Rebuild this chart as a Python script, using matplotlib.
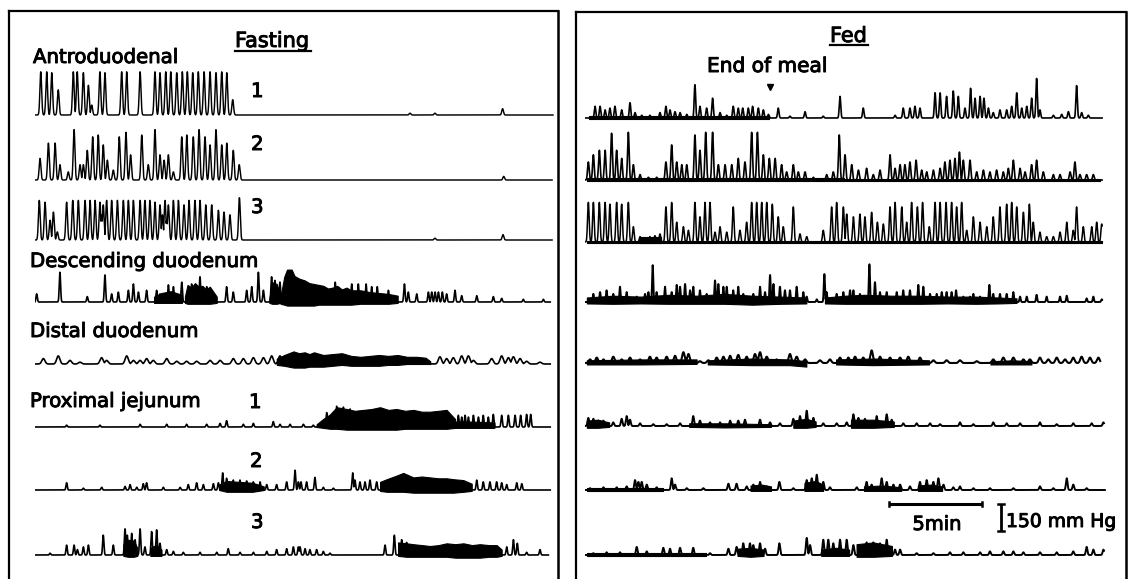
import numpy as np
import matplotlib
matplotlib.use('Agg')
import matplotlib.pyplot as plt
import matplotlib.patheffects as pe
from matplotlib.lines import Line2D

W, H = 1128, 579
PX_MIN = 18.6            # px per minute on the chart
MMHG_PX = 150 / 27.0     # mmHg per px (from the 150 mm Hg bar)
T_SPAN = 28.0

# ---------------- data: spike times (min) and peak pressures (mmHg) ----------------
# Fasting, antroduodenal 1-3
a1_t = [0.31, 0.63, 0.90, 1.25, 2.06, 2.27, 2.60, 2.87, 3.05, 3.49, 3.76, 4.66, 4.93, 5.65, 6.45, 6.72,
        7.03, 7.30, 7.62, 7.92, 8.19, 8.48, 8.78, 9.09, 9.41, 9.73, 10.04, 10.31, 10.63, 20.16, 21.5, 25.14]
a1_h = [240, 240, 235, 140, 240, 240, 235, 165, 55, 240, 235, 240, 240, 240, 240, 235,
        240, 240, 235, 240, 240, 235, 240, 240, 240, 235, 240, 235, 85, 10, 10, 35]
a2_t = [0.27, 0.72, 1.08, 1.34, 1.79, 2.10, 2.42, 2.60, 2.81, 3.10, 3.40, 3.67, 3.89, 4.21, 4.53, 4.89,
        5.14, 5.74, 6.09, 6.45, 6.72, 6.94, 7.17, 7.44, 7.89, 8.16, 8.51, 8.82, 9.14, 9.41, 9.73, 10.04,
        10.31, 10.66, 10.98, 25.2]
a2_h = [120, 205, 205, 85, 45, 280, 85, 85, 165, 240, 250, 195, 110, 55, 240, 265,
        140, 250, 85, 280, 140, 110, 140, 45, 240, 250, 240, 280, 240, 195, 280, 195,
        205, 165, 85, 20]
a3_t = [0.23, 0.54, 0.81, 0.99, 1.20, 1.70, 2.03, 2.33, 2.69, 2.96, 3.23, 3.49, 3.58, 3.67, 3.85, 4.12,
        4.43, 4.75, 5.02, 5.29, 5.65, 5.91, 6.18, 6.45, 6.72, 6.85, 6.99, 7.08, 7.17, 7.44, 7.71, 8.01,
        8.28, 8.60, 8.87, 9.18, 9.50, 9.86, 10.16, 10.48, 10.99, 21.5, 25.16]
a3_h = [220, 210, 110, 155, 45, 210, 220, 220, 220, 220, 220, 210, 140, 195, 220, 220,
        220, 220, 220, 220, 220, 220, 220, 210, 195, 140, 220, 110, 195, 220, 220, 195,
        220, 220, 220, 195, 195, 165, 155, 140, 235, 10, 30]

# Fasting, descending duodenum
dd0_t = [0.09, 1.34, 2.81, 3.76, 4.12, 4.48, 5.02, 5.29, 5.56, 6.00, 6.54, 6.72, 7.17, 7.44, 7.89, 8.42,
         8.87, 9.23, 10.30, 10.66, 11.38, 11.65, 12.01, 12.28, 12.72, 12.90, 13.17, 16.14, 17.03, 17.38,
         17.8, 18.1, 18.4, 19.0, 19.86, 20.07, 20.52, 21.15, 21.33, 21.51, 21.69, 21.9, 22.13, 22.58,
         22.94, 23.75, 24.64, 25.09, 26.25, 27.33]
dd0_h = [45, 165, 30, 150, 45, 55, 65, 100, 55, 65, 65, 45, 95, 85, 110, 100,
         140, 85, 85, 55, 65, 85, 165, 65, 140, 120, 110, 110, 100, 100,
         100, 85, 85, 65, 100, 55, 45, 55, 55, 55, 55, 55, 45, 65,
         35, 35, 30, 20, 15, 15]
dd0_bt = [[6.4, 6.8, 7.3, 7.9], [8.06, 8.2, 8.4, 8.6, 8.8, 9.0, 9.2, 9.4, 9.77], [12.6, 12.75, 13.0, 13.2],
          [13.2, 13.4, 13.55, 13.8, 13.95, 14.2, 14.5, 14.75, 15.0, 15.25, 15.5, 15.75, 16.0, 16.25,
           16.5, 16.75, 17.0, 17.5, 18.0, 18.5, 19.0, 19.5]]
dd0_bu = [[30, 50, 60, 40], [30, 95, 80, 105, 85, 90, 70, 85, 30], [20, 110, 100, 30],
          [30, 140, 180, 180, 145, 130, 120, 105, 100, 95, 90, 75, 80, 90, 70, 80, 65, 65, 55, 50, 45, 35]]
dd0_bl = [[-5, -5, -5, -5], [-5, -10, -10, -10, -10, -10, -10, -10, -5], [-5, -10, -10, -5],
          [-10, -15, -20, -20, -20, -20, -20, -20, -20, -15, -15, -15, -15, -15, -15, -15, -15,
           -10, -10, -10, -10, -5]]

# Fasting, distal duodenum
dist0_t = [0.45, 1.25, 1.88, 2.42, 3.58, 3.85, 4.93, 5.29, 5.65, 6.00, 6.36, 7.08, 7.62, 8.15, 8.69,
           9.41, 9.95, 10.66, 11.2, 11.74, 12.28, 12.72, 13.17, 21.77, 22.13, 22.49, 22.94, 23.30,
           23.57, 24.55, 25.09, 25.45, 25.72, 26.08, 26.43, 27.15]
dist0_h = [30, 45, 20, 10, 35, 20, 45, 20, 20, 30, 20, 30, 15, 15, 15,
           20, 20, 30, 30, 35, 35, 45, 45, 40, 30, 35, 45, 45,
           20, 30, 45, 35, 40, 30, 15, 10]
dist0_bt = [[13.0, 13.4, 13.9, 14.2, 14.5, 14.75, 15.0, 15.5, 16.0, 16.5, 17.0, 17.5, 18.0, 18.5, 19.0,
             19.5, 20.0, 20.5, 21.0, 21.25]]
dist0_bu = [[30, 50, 70, 60, 65, 55, 65, 50, 55, 60, 45, 40, 45, 50, 45, 50, 40, 40, 35, 15]]
dist0_bl = [[-5, -10, -20, -20, -20, -15, -15, -15, -10, -5, -10, -10, -10, -10, -5, -5, 0, 0, 0, 0]]

# Fasting, proximal jejunum 1-3
pj1_t = [1.70, 3.49, 5.65, 7.08, 8.15, 9.23, 9.95, 10.30, 11.2, 11.74, 12.81, 13.17, 13.71, 14.43,
         14.96, 15.68, 16.22, 16.58, 16.94, 22.76, 22.94, 23.12, 23.3, 23.57, 23.84, 24.10, 24.37,
         24.64, 25.09, 25.45, 25.81, 26.11, 26.43, 26.65]
pj1_h = [10, 10, 15, 15, 15, 15, 20, 35, 15, 20, 30, 15, 15, 15,
         10, 80, 115, 110, 100, 65, 55, 65, 55, 65, 55, 65, 55,
         70, 65, 65, 65, 65, 70, 70]
pj1_bt = [[15.14, 15.5, 15.86, 16.22, 16.76, 17.2, 17.65, 18.1, 18.55, 19.0, 19.44, 19.9, 20.34, 20.8,
           21.24, 21.7, 22.13, 22.58],
          [22.58, 23.5, 24.7]]
pj1_bu = [[15, 45, 70, 110, 100, 90, 95, 100, 110, 95, 100, 90, 95, 85, 85, 90, 95, 45], [30, 30, 25]]
pj1_bl = [[0, -5, -10, -10, -15, -15, -15, -15, -15, -15, -15, -10, -10, -10, -10, -10, -10, -5],
          [-5, -5, -5]]

pj2_t = [1.70, 2.60, 3.58, 4.84, 5.11, 5.47, 5.82, 6.0, 6.90, 7.80, 8.24, 8.69, 9.05, 9.59, 9.86,
         10.09, 10.30, 10.66, 11.02, 11.38, 11.74, 12.10, 12.46, 12.99, 13.53, 13.98, 14.16, 14.3,
         14.6, 15.05, 15.5, 16.04, 17.08, 17.2, 17.47, 17.74, 18.01, 18.37, 23.75, 24.1, 24.46,
         24.82, 25.09, 25.36, 25.9, 26.17]
pj2_h = [40, 10, 15, 20, 30, 15, 35, 40, 15, 15, 30, 40, 30, 35, 40,
         95, 65, 55, 55, 50, 45, 45, 30, 30, 45, 110, 45, 45,
         45, 70, 15, 10, 95, 55, 45, 45, 55, 45, 55, 45, 45,
         45, 40, 30, 40, 35]
pj2_bt = [[9.9, 10.3, 11.0, 11.7, 12.3],
          [18.55, 18.91, 19.44, 19.8, 20.34, 20.8, 21.24, 21.7, 22.13, 22.49, 23.03, 23.48]]
pj2_bu = [[30, 50, 45, 40, 20], [45, 60, 80, 95, 70, 75, 70, 65, 65, 60, 55, 35]]
pj2_bl = [[0, -10, -10, -10, 0], [-5, -10, -10, -10, -15, -15, -15, -15, -15, -15, -10, -5]]

pj3_t = [0.81, 1.70, 2.10, 2.28, 2.60, 2.87, 3.67, 4.21, 4.84, 4.96, 5.20, 5.38, 5.65, 5.91, 6.27,
         6.54, 6.72, 7.08, 7.44, 7.97, 8.87, 9.77, 10.39, 11.02, 11.74, 12.46, 12.99, 13.53, 13.89,
         14.16, 14.25, 14.52, 14.78, 15.14, 15.5, 15.86, 18.82, 19.32, 19.71, 19.98, 25.36, 25.72,
         25.93, 26.43, 27.15]
pj3_h = [10, 55, 55, 30, 45, 55, 110, 55, 145, 110, 120, 85, 145, 45, 130,
         140, 65, 30, 20, 15, 15, 15, 35, 15, 15, 20, 30, 35, 45,
         45, 45, 35, 30, 30, 20, 10, 55, 110, 85, 70, 45, 85,
         65, 15, 30]
pj3_bt = [[4.75, 5.0, 5.3, 5.5], [6.2, 6.5, 6.8],
          [19.52, 19.98, 20.34, 20.8, 21.24, 21.7, 22.13, 22.6, 23.03, 23.5, 23.92, 24.4, 24.82, 25.09]]
pj3_bu = [[60, 85, 80, 40], [40, 55, 30], [70, 65, 60, 55, 50, 55, 65, 60, 65, 55, 60, 55, 55, 30]]
pj3_bl = [[-5, -10, -10, -5], [-5, -5, -5],
          [-5, -10, -10, -10, -10, -10, -10, -15, -15, -15, -15, -10, -10, -5]]

# Fed, antroduodenal 1-3
MEAL_END = 9.95
f1_t = [0.54, 0.81, 1.08, 1.34, 1.61, 1.97, 2.42, 2.69, 3.05, 3.49, 4.03, 4.35, 4.57, 4.84, 5.11,
        5.47, 5.91, 6.18, 6.54, 6.86, 7.26, 7.62, 7.97, 8.24, 8.48, 8.78, 9.01, 9.32, 9.59, 9.86,
        10.39, 11.02, 11.83, 12.81, 13.71, 14.96, 16.67, 17.11, 17.47, 17.74, 18.01, 18.82, 19.09,
        19.44, 19.80, 20.07, 20.43, 20.73, 20.97, 21.24, 21.45, 21.69, 21.95, 22.31, 22.67, 22.94,
        23.21, 23.48, 23.75, 24.01, 24.28, 24.46, 25.18, 25.63, 25.99, 26.43, 26.70, 27.06]
f1_h = [65, 65, 45, 55, 65, 45, 85, 30, 15, 15, 30, 65, 45, 35, 30,
        20, 185, 65, 55, 110, 30, 15, 65, 55, 55, 55, 65, 55, 45, 20,
        55, 10, 35, 10, 120, 55, 15, 55, 55, 65, 55, 140, 140,
        120, 150, 120, 55, 165, 110, 120, 110, 55, 30, 45, 45, 65,
        140, 55, 65, 110, 220, 45, 15, 20, 35, 180, 30, 15]
f1_bt = [[0.2, 3.0, 6.0, 9.9]]
f1_bu = [[10, 10, 10, 10]]
f1_bl = [[-3, -3, -3, -3]]

f2_t = [0.18, 0.45, 0.77, 1.08, 1.43, 1.70, 1.97, 2.33, 2.60, 2.96, 3.41, 3.85, 4.35, 4.66, 4.93,
        5.20, 5.47, 5.91, 6.18, 6.49, 6.86, 7.17, 7.53, 7.89, 8.24, 8.60, 8.96, 9.27, 9.59, 9.91,
        10.22, 10.57, 10.84, 11.20, 11.47, 11.83, 12.28, 12.99, 13.35, 13.67, 13.98, 14.34, 14.70,
        15.14, 15.50, 15.86, 16.40, 16.67, 16.94, 17.20, 17.47, 17.80, 18.10, 18.37, 18.73, 19.09,
        19.35, 19.62, 19.89, 20.13, 20.34, 20.70, 21.06, 21.42, 21.77, 22.13, 22.49, 22.76, 23.03,
        23.39, 23.66, 24.01, 24.28, 24.64, 25.18, 25.54, 26.08, 26.34, 26.61, 26.97, 27.33]
f2_h = [100, 140, 165, 165, 260, 165, 120, 265, 85, 30, 15, 15, 100, 195, 100,
        85, 85, 250, 165, 265, 265, 85, 85, 85, 120, 100, 265, 265, 140, 120,
        120, 85, 45, 85, 45, 45, 15, 30, 45, 250, 140, 85, 55,
        65, 30, 55, 140, 65, 85, 85, 100, 110, 55, 45, 55, 65,
        100, 110, 120, 155, 110, 110, 45, 55, 45, 55, 45, 65, 110,
        65, 45, 85, 110, 45, 30, 30, 45, 100, 30, 30, 30]
f2_bt = [[0.1, 13.9], [14.0, 27.7]]
f2_bu = [[12, 12], [8, 8]]
f2_bl = [[-4, -4], [-3, -3]]

f3_t = [0.18, 0.45, 0.77, 1.08, 1.34, 1.70, 1.97, 2.33, 2.60, 2.96, 3.23, 3.49, 3.76, 4.03, 4.35,
        4.66, 4.93, 5.29, 5.56, 5.91, 6.18, 6.45, 6.72, 6.99, 7.26, 7.62, 7.97, 8.33, 8.69, 8.96,
        9.23, 9.50, 9.77, 10.07, 10.39, 10.66, 11.20, 11.56, 11.92, 12.81, 13.26, 13.53, 13.89,
        14.07, 14.43, 14.78, 15.05, 15.41, 15.72, 16.04, 16.40, 16.67, 17.03, 17.29, 17.56, 17.87,
        18.15, 18.51, 18.82, 19.09, 19.41, 19.71, 19.98, 20.25, 20.52, 20.88, 21.24, 21.60, 21.95,
        22.31, 22.67, 22.94, 23.21, 23.57, 23.89, 24.10, 24.46, 24.82, 25.18, 25.54, 25.90, 26.25,
        26.43, 26.79, 27.24, 27.51, 27.78]
f3_h = [220, 220, 220, 220, 210, 220, 210, 220, 85, 30, 20, 30, 35, 45, 195,
        220, 110, 85, 65, 220, 140, 220, 220, 55, 85, 55, 195, 65, 110, 220,
        220, 220, 220, 210, 140, 85, 195, 45, 30, 65, 195, 220, 195,
        155, 140, 155, 140, 165, 110, 100, 195, 220, 195, 110, 220, 195,
        220, 85, 220, 220, 220, 220, 195, 220, 65, 140, 110, 85, 140,
        195, 210, 220, 195, 165, 210, 110, 55, 30, 30, 55, 110, 65,
        195, 85, 85, 110, 100]
f3_bt = [[0.1, 27.8], [2.9, 4.1]]
f3_bu = [[8, 8], [30, 30]]
f3_bl = [[-4, -4], [-5, -5]]

# Fed, descending duodenum
f4_t = [0.45, 0.81, 1.16, 1.52, 1.88, 2.24, 2.78, 3.23, 3.41, 3.64, 3.85, 4.30, 4.66, 4.93, 5.11,
        5.38, 5.65, 5.82, 6.18, 6.54, 6.99, 7.17, 7.44, 7.62, 7.97, 8.24, 8.51, 9.05, 9.41, 9.68,
        9.95, 10.13, 10.48, 10.75, 11.02, 11.38, 11.74, 11.92, 12.46, 12.87, 12.99, 13.53, 13.89,
        14.25, 14.43, 14.78, 15.29, 15.59, 15.86, 16.22, 16.76, 17.11, 17.47, 17.92, 18.19, 18.55,
        18.91, 19.18, 19.44, 19.71, 19.95, 20.34, 20.70, 20.88, 21.24, 21.74, 21.95, 22.31, 22.67,
        23.03, 23.39, 23.75, 24.28, 24.82, 25.54, 25.90, 26.97, 27.33, 27.78]
f4_h = [45, 55, 65, 45, 85, 55, 30, 45, 55, 205, 55, 85, 55, 95, 85,
        100, 65, 85, 65, 45, 120, 100, 85, 85, 65, 85, 45, 45, 85, 55,
        150, 100, 85, 65, 65, 85, 55, 30, 15, 155, 55, 45, 55,
        65, 65, 45, 210, 110, 55, 55, 55, 65, 65, 95, 85, 45,
        45, 55, 55, 55, 65, 30, 30, 45, 30, 95, 45, 45, 45,
        55, 30, 30, 40, 30, 30, 35, 20, 30, 15]
f4_bt = [[0.1, 1.5, 3.0, 4.5, 6.0, 7.5, 9.0, 10.5, 11.9], [12.9, 14.0, 15.0, 16.5, 18.0, 19.5, 21.0, 22.2, 23.2]]
f4_bu = [[25, 35, 30, 40, 35, 45, 35, 30, 25], [25, 35, 40, 35, 35, 30, 30, 25, 20]]
f4_bl = [[-8, -10, -8, -10, -10, -10, -15, -10, -8], [-8, -10, -10, -10, -10, -8, -10, -8, -5]]

# Fed, distal duodenum
f5_t = [0.27, 0.63, 0.99, 1.52, 1.97, 2.42, 2.96, 3.49, 3.85, 4.39, 4.84, 5.29, 5.56, 6.18, 6.63,
        7.08, 7.44, 7.80, 8.24, 8.69, 9.14, 9.41, 9.77, 10.30, 11.02, 11.38, 11.83, 12.63, 13.17,
        13.71, 14.16, 14.52, 14.96, 15.41, 15.86, 16.40, 16.94, 17.38, 18.01, 18.73, 19.44, 20.16,
        21.06, 21.95, 22.49, 23.03, 23.57, 23.92, 24.46, 24.91, 25.36, 25.81, 26.25, 26.70, 27.15,
        27.60]
f5_h = [20, 30, 20, 35, 20, 30, 20, 35, 30, 35, 40, 60, 50, 10, 15,
        30, 35, 40, 45, 35, 50, 60, 35, 20, 50, 35, 20, 15, 20,
        30, 30, 35, 30, 70, 35, 30, 30, 35, 30, 15, 15, 15,
        10, 20, 30, 30, 20, 20, 30, 20, 30, 20, 30, 35, 30,
        30]
f5_bt = [[0.1, 3.0, 6.0], [6.6, 9.0, 11.0, 11.9], [13.5, 15.5, 18.5], [21.8, 23.0, 24.0]]
f5_bu = [[15, 20, 20], [15, 25, 20, 10], [20, 25, 15], [10, 15, 10]]
f5_bl = [[-8, -8, -5], [-8, -12, -12, -20], [-8, -12, -8], [-8, -8, -8]]

# Fed, proximal jejunum 1-3
f6_t = [0.18, 0.45, 0.72, 0.99, 1.52, 1.97, 2.24, 2.42, 2.96, 3.67, 4.39, 5.11, 5.82, 6.18, 6.72,
        7.26, 7.80, 8.24, 8.60, 9.41, 9.95, 10.48, 11.20, 11.56, 11.92, 12.28, 12.81, 13.53, 14.07,
        14.43, 14.70, 15.05, 15.68, 16.22, 16.49, 17.11, 17.83, 18.55, 19.09, 20.16, 20.88, 21.95,
        22.67, 23.39, 24.46, 25.36, 26.25, 27.24, 27.87]
f6_h = [45, 40, 30, 30, 20, 40, 55, 35, 15, 10, 10, 15, 55, 30, 20,
        20, 30, 30, 35, 35, 20, 15, 40, 55, 85, 45, 15, 15, 20,
        65, 45, 40, 55, 65, 35, 15, 15, 15, 10, 20, 10, 20,
        15, 15, 20, 10, 15, 15, 20]
f6_bt = [[0.1, 0.7, 1.3], [5.6, 7.5, 10.0], [11.2, 11.9, 12.4], [14.3, 15.5, 16.6]]
f6_bu = [[30, 35, 20], [15, 15, 10], [30, 40, 25], [35, 35, 25]]
f6_bl = [[-10, -10, -5], [-5, -8, -5], [-10, -10, -5], [-10, -10, -5]]

f7_t = [0.27, 0.99, 1.70, 2.24, 2.69, 2.87, 3.05, 3.32, 3.85, 4.66, 4.84, 5.47, 6.36, 7.71, 8.15,
        8.69, 9.05, 9.41, 9.77, 10.45, 11.20, 11.92, 12.19, 12.46, 12.81, 13.17, 14.61, 15.14, 15.41,
        15.95, 16.22, 16.58, 16.94, 17.47, 18.01, 18.37, 18.73, 19.0, 19.27, 19.80, 20.16, 20.88,
        21.77, 23.03, 24.46, 25.18, 25.90, 26.25, 26.97]
f7_h = [10, 15, 15, 20, 55, 45, 45, 30, 15, 65, 30, 10, 10, 35, 35,
        20, 30, 45, 20, 45, 10, 55, 65, 85, 45, 15, 15, 45, 30,
        65, 45, 30, 30, 20, 45, 55, 45, 65, 30, 15, 20, 10,
        10, 10, 20, 10, 65, 30, 10]
f7_bt = [[0.1, 2.0, 4.2], [8.9, 9.5, 10.0], [11.8, 12.4, 12.8], [15.0, 16.0, 17.0], [17.9, 18.6, 19.2]]
f7_bu = [[12, 12, 12], [25, 30, 20], [40, 50, 30], [20, 25, 15], [25, 30, 20]]
f7_bl = [[-5, -5, -5], [-5, -5, -5], [-5, -5, -5], [-5, -5, -5], [-5, -5, -5]]

f8_t = [0.45, 1.16, 1.88, 2.78, 3.32, 4.21, 4.57, 5.11, 5.82, 6.72, 7.71, 8.15, 8.51, 8.87, 9.05,
        9.41, 9.68, 10.45, 11.92, 12.10, 12.81, 13.08, 13.35, 13.71, 14.07, 14.43, 14.78, 15.14,
        15.50, 15.86, 16.22, 16.40, 16.67, 16.94, 17.83, 18.73, 19.62, 20.34, 21.24, 21.77, 22.49,
        23.03, 23.57, 24.46, 25.36, 26.25, 26.97, 27.33, 27.87]
f8_h = [10, 15, 15, 45, 20, 40, 35, 40, 40, 10, 35, 45, 65, 65, 55,
        65, 35, 65, 95, 55, 85, 85, 65, 85, 85, 55, 45, 70,
        70, 65, 85, 45, 30, 30, 10, 10, 15, 15, 15, 20, 20,
        20, 15, 15, 15, 20, 45, 30, 30]
f8_bt = [[0.1, 3.0, 6.5], [8.2, 8.9, 9.6], [12.7, 13.5, 14.2], [14.6, 15.5, 16.5]]
f8_bu = [[12, 12, 12], [35, 40, 30], [30, 40, 30], [60, 70, 50]]
f8_bl = [[-5, -5, -5], [-5, -10, -5], [-5, -5, -5], [-10, -10, -5]]

SCALE_MIN = 5
SCALE_MMHG = 150

# ---------------- drawing ----------------
plt.rcParams['font.family'] = 'DejaVu Sans'
fig = plt.figure(figsize=(W / 100, H / 100), dpi=100)
BOLDISH = [pe.withStroke(linewidth=0.7, foreground='black')]


def fx(px):
    return px / W


def fy(py):
    return 1 - py / H


def draw_trace(x0, base, t_end, st, sh, bt=(), bu=(), bl=(), w=0.07, lw=0.9):
    ax = fig.add_axes([fx(x0), fy(base + 12), T_SPAN * PX_MIN / W, 74 / H])
    ax.set_xlim(0, T_SPAN)
    ax.set_ylim(-12 * MMHG_PX, 62 * MMHG_PX)
    ax.axis('off')
    for tt, uu, ll in zip(bt, bu, bl):
        ax.fill_between(tt, ll, uu, color='black', lw=0.8)
    t = np.linspace(0, t_end, 6000)
    y = np.zeros_like(t)
    for ti, hi in zip(st, sh):
        y = np.maximum(y, hi * np.exp(-((t - ti) / w) ** 2))
    ax.plot(t, y, color='black', lw=lw)
    return ax


XL, XR = 35, 585
draw_trace(XL, 115, 27.85, a1_t, a1_h, w=0.065, lw=1.05)
draw_trace(XL, 180, 27.8, a2_t, a2_h, w=0.065, lw=1.05)
draw_trace(XL, 240, 27.8, a3_t, a3_h, w=0.065, lw=1.05)
draw_trace(XL, 302, 27.7, dd0_t, dd0_h, dd0_bt, dd0_bu, dd0_bl, w=0.05, lw=1.2)
draw_trace(XL, 364, 27.7, dist0_t, dist0_h, dist0_bt, dist0_bu, dist0_bl, w=0.12, lw=1.2)
draw_trace(XL, 427, 27.7, pj1_t, pj1_h, pj1_bt, pj1_bu, pj1_bl, w=0.05, lw=1.2)
draw_trace(XL, 490, 27.7, pj2_t, pj2_h, pj2_bt, pj2_bu, pj2_bl, w=0.05, lw=1.2)
draw_trace(XL, 555, 27.6, pj3_t, pj3_h, pj3_bt, pj3_bu, pj3_bl, w=0.05, lw=1.2)

ax_f1 = draw_trace(XR, 118, 27.8, f1_t, f1_h, f1_bt, f1_bu, f1_bl, w=0.055, lw=1.2)
draw_trace(XR, 180, 27.8, f2_t, f2_h, f2_bt, f2_bu, f2_bl, w=0.06, lw=1.2)
draw_trace(XR, 242, 27.8, f3_t, f3_h, f3_bt, f3_bu, f3_bl, w=0.06, lw=1.1)
draw_trace(XR, 302, 27.8, f4_t, f4_h, f4_bt, f4_bu, f4_bl, w=0.045, lw=1.4)
draw_trace(XR, 363, 27.7, f5_t, f5_h, f5_bt, f5_bu, f5_bl, w=0.1, lw=1.5)
draw_trace(XR, 426, 27.9, f6_t, f6_h, f6_bt, f6_bu, f6_bl, w=0.06, lw=1.4)
draw_trace(XR, 490, 27.95, f7_t, f7_h, f7_bt, f7_bu, f7_bl, w=0.06, lw=1.4)
draw_trace(XR, 555, 27.9, f8_t, f8_h, f8_bt, f8_bu, f8_bl, w=0.06, lw=1.4)

# end-of-meal marker
ax_f1.plot([MEAL_END], [172], marker='v', color='black', ms=5, lw=0)

# scale bars (own axes, same minute / mmHg scales)
sax = fig.add_axes([fx(XR), fy(540), T_SPAN * PX_MIN / W, 45 / H])
sax.set_xlim(0, T_SPAN)
sax.set_ylim(0, 45 * MMHG_PX)
sax.axis('off')
s0 = 16.35
sax.plot([s0, s0 + SCALE_MIN], [200, 200], color='black', lw=2.2, solid_capstyle='butt')
for xe in (s0, s0 + SCALE_MIN):
    sax.plot([xe, xe], [188, 212], color='black', lw=1.8)
vb = 22.37
sax.plot([vb, vb], [50, 50 + SCALE_MMHG], color='black', lw=2.0, solid_capstyle='butt')
for ye in (50, 50 + SCALE_MMHG):
    sax.plot([vb - 0.17, vb + 0.17], [ye, ye], color='black', lw=1.8)

# panel frames
for x1, x2, ytop in ((9, 558, 11), (576, 1126, 12)):
    fig.add_artist(Line2D([fx(x1), fx(x2)], [fy(ytop), fy(ytop)], color='black', lw=1.6))
    fig.add_artist(Line2D([fx(x1), fx(x1)], [fy(ytop), fy(H + 5)], color='black', lw=1.6))
    fig.add_artist(Line2D([fx(x2), fx(x2)], [fy(ytop), fy(H + 5)], color='black', lw=1.8))

# headings
fig.text(fx(235), fy(47), 'Fasting', fontsize=15, va='baseline', path_effects=BOLDISH)
fig.add_artist(Line2D([fx(235), fx(311)], [fy(51), fy(51)], color='black', lw=1.6))
fig.text(fx(830), fy(42), 'Fed', fontsize=15, va='baseline', path_effects=BOLDISH)
fig.add_artist(Line2D([fx(830), fx(868)], [fy(45), fy(45)], color='black', lw=1.6))
fig.text(fx(707), fy(72), 'End of meal', fontsize=14.5, va='baseline', path_effects=BOLDISH)

# trace labels
LBL = 14.2
labels = [('Antroduodenal', 33, 63), ('Descending duodenum', 30, 267),
          ('Distal duodenum', 30, 337), ('Proximal jejunum', 30, 407)]
for s, x, y in labels:
    fig.text(fx(x), fy(y), s, fontsize=LBL, va='baseline', path_effects=BOLDISH)
for s, x, y in [('1', 251, 97), ('2', 251, 150), ('3', 251, 213),
                ('1', 249, 408), ('2', 250, 467), ('3', 251, 528)]:
    fig.text(fx(x), fy(y), s, fontsize=LBL, va='baseline', path_effects=BOLDISH)

fig.text(fx(937), fy(530), '5min', fontsize=14, va='baseline', ha='center', path_effects=BOLDISH)
fig.text(fx(1006), fy(527), '150 mm Hg', fontsize=13.5, va='baseline', path_effects=BOLDISH)

fig.savefig('out.png', dpi=100, facecolor='white')
